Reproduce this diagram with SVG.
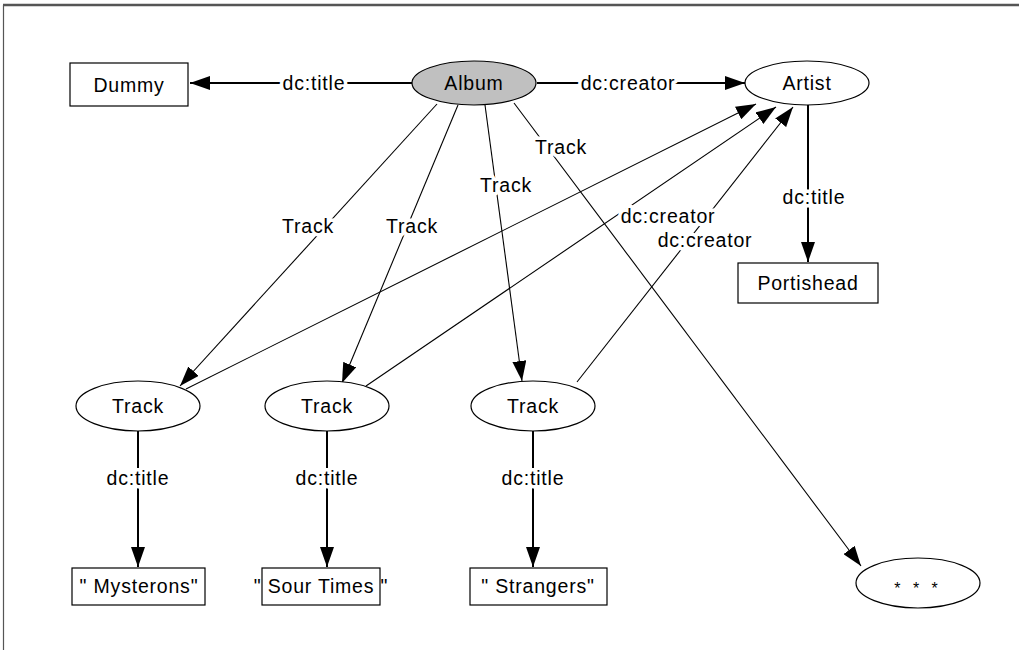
<svg xmlns="http://www.w3.org/2000/svg" width="1019" height="650" viewBox="0 0 1019 650">
<style>
text{font-family:"Liberation Sans",Arial,sans-serif;font-size:19.5px;letter-spacing:0.8px;fill:#000;text-anchor:middle;dominant-baseline:central}
.lbl{paint-order:stroke;stroke:#fff;stroke-width:7px;stroke-linejoin:round}
.node{fill:#fff;stroke:#000;stroke-width:1.2}
.e{stroke:#000;fill:none}
.thick{stroke-width:2}
.thin{stroke-width:1.1}
</style>
<defs>
<marker id="ah" markerUnits="userSpaceOnUse" markerWidth="22" markerHeight="14" refX="20" refY="7" orient="auto">
<path d="M0,0 L20,7 L0,14 z" fill="#000"/>
</marker>
</defs>
<rect x="0" y="0" width="1019" height="650" fill="#fff"/>
<g id="frame">
<line x1="3" y1="5" x2="1019" y2="5" stroke="#555" stroke-width="2.5"/>
<line x1="3.5" y1="5" x2="3.5" y2="650" stroke="#555" stroke-width="1.2"/>
</g>
<g id="connectors">
<line class="e thick" x1="412" y1="83" x2="190" y2="83" marker-end="url(#ah)"/>
<line class="e thick" x1="537" y1="83" x2="745" y2="83" marker-end="url(#ah)"/>
<line class="e thick" x1="808" y1="105" x2="808" y2="262" marker-end="url(#ah)"/>
<line class="e thin" x1="437" y1="104" x2="180" y2="386" marker-end="url(#ah)"/>
<line class="e thin" x1="458" y1="105" x2="342" y2="383" marker-end="url(#ah)"/>
<line class="e thin" x1="485" y1="105" x2="522" y2="381" marker-end="url(#ah)"/>
<line class="e thin" x1="514" y1="103" x2="861" y2="566" marker-end="url(#ah)"/>
<line class="e thin" x1="186" y1="389" x2="756" y2="104" marker-end="url(#ah)"/>
<line class="e thin" x1="366" y1="386" x2="776" y2="107" marker-end="url(#ah)"/>
<line class="e thin" x1="577" y1="382" x2="793" y2="107" marker-end="url(#ah)"/>
<line class="e thick" x1="138" y1="431" x2="138" y2="567" marker-end="url(#ah)"/>
<line class="e thick" x1="327" y1="431" x2="327" y2="567" marker-end="url(#ah)"/>
<line class="e thick" x1="533" y1="431" x2="533" y2="567" marker-end="url(#ah)"/>
<text class="lbl" x="314" y="83">dc:title</text>
<text class="lbl" x="628" y="83">dc:creator</text>
<text class="lbl" x="814" y="197">dc:title</text>
<text class="lbl" x="308" y="226">Track</text>
<text class="lbl" x="412" y="226">Track</text>
<text class="lbl" x="506" y="185">Track</text>
<text class="lbl" x="561" y="147">Track</text>
<text class="lbl" x="668" y="216">dc:creator</text>
<text class="lbl" x="705" y="240">dc:creator</text>
<text class="lbl" x="138" y="478">dc:title</text>
<text class="lbl" x="327" y="478">dc:title</text>
<text class="lbl" x="533" y="478">dc:title</text>
</g>
<g id="dummy"><rect class="node" x="70" y="63" width="118" height="43"/><text x="129" y="85">Dummy</text></g>
<g id="album"><ellipse class="node" cx="474" cy="83" rx="62" ry="22" style="fill:#c0c0c0"/><text x="474" y="83">Album</text></g>
<g id="artist"><ellipse class="node" cx="807" cy="83" rx="62" ry="22"/><text x="807" y="83">Artist</text></g>
<g id="portishead"><rect class="node" x="738" y="263" width="140" height="40"/><text x="808" y="283">Portishead</text></g>
<g id="track1"><ellipse class="node" cx="138" cy="406" rx="62" ry="25"/><text x="138" y="406">Track</text></g>
<g id="track2"><ellipse class="node" cx="327" cy="406" rx="62" ry="25"/><text x="327" y="406">Track</text></g>
<g id="track3"><ellipse class="node" cx="533" cy="406" rx="62" ry="25"/><text x="533" y="406">Track</text></g>
<g id="mysterons"><rect class="node" x="72" y="568" width="133" height="37"/><text x="139" y="586">" Mysterons"</text></g>
<g id="sourtimes"><rect class="node" x="262" y="568" width="118" height="37"/><text x="321" y="586">" Sour Times "</text></g>
<g id="strangers"><rect class="node" x="470" y="568" width="137" height="37"/><text x="538" y="586">" Strangers"</text></g>
<g id="more"><ellipse class="node" cx="918" cy="583" rx="62" ry="25"/><text x="918" y="588" style="font-size:16px;letter-spacing:4px">* * *</text></g>
</svg>
